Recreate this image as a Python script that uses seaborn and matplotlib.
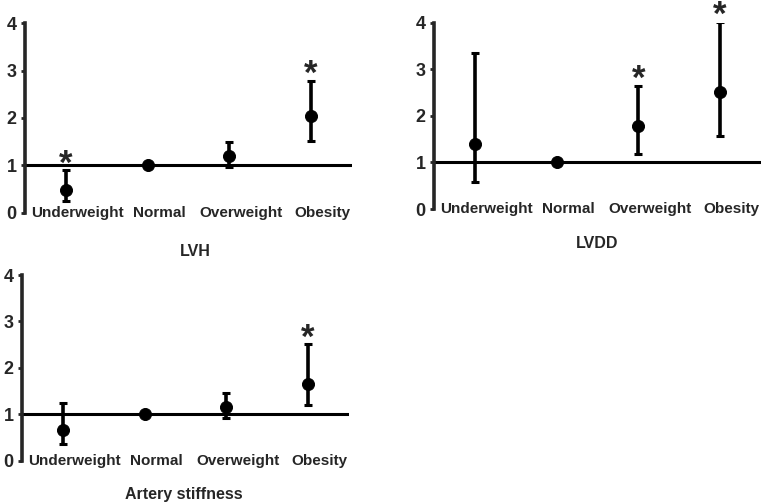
import numpy as np
import pandas as pd
import seaborn as sns
import matplotlib.pyplot as plt

categories = ["Underweight", "Normal", "Overweight", "Obesity"]

# odds ratio, lower and upper CI for each panel
lvh_or = [0.47, 1.0, 1.2, 2.05]
lvh_low = [0.25, 1.0, 0.97, 1.52]
lvh_high = [0.90, 1.0, 1.5, 2.79]
lvh_sig = [True, False, False, True]

lvdd_or = [1.39, 1.0, 1.79, 2.52]
lvdd_low = [0.57, 1.0, 1.19, 1.57]
lvdd_high = [3.34, 1.0, 2.65, 4.02]
lvdd_sig = [False, False, True, True]

stiff_or = [0.67, 1.0, 1.15, 1.65]
stiff_low = [0.37, 1.0, 0.92, 1.19]
stiff_high = [1.25, 1.0, 1.45, 2.51]
stiff_sig = [False, False, False, True]

titles = ["LVH", "LVDD", "Artery stiffness"]

sns.set_style("ticks")
plt.rcParams["font.family"] = ["Liberation Sans", "DejaVu Sans"]
plt.rcParams["font.weight"] = "bold"

fig = plt.figure(figsize=(7.64, 5.03), dpi=100)

W, H = 764, 503
# left px, bottom px, top px
boxes = [(25, 212.7, 23.3), (434, 209, 22.7), (22, 460.7, 275)]
panels = [
    (lvh_or, lvh_low, lvh_high, lvh_sig),
    (lvdd_or, lvdd_low, lvdd_high, lvdd_sig),
    (stiff_or, stiff_low, stiff_high, stiff_sig),
]
title_pos = [(195, 251), (597, 243), (184, 494)]

for (left, bot, top), (vals, low, high, sig), title, (tx, ty) in zip(boxes, panels, titles, title_pos):
    ax = fig.add_axes([left / W, (H - bot) / H, 327 / W, (bot - top) / H])
    df = pd.DataFrame({"cat": categories, "or": vals, "low": low, "high": high})
    xs = np.arange(len(categories))

    ax.axhline(1, color="black", lw=2.2, zorder=1)
    yerr = [df["or"] - df["low"], df["high"] - df["or"]]
    ax.errorbar(xs, df["or"], yerr=yerr, fmt="none", ecolor="black",
                elinewidth=2.6, capsize=3, capthick=2.2, zorder=2)
    sns.scatterplot(data=df, x="cat", y="or", ax=ax, color="black", s=75,
                    edgecolor="black", zorder=3, legend=False)

    for i, s in enumerate(sig):
        if s:
            ax.text(i, high[i] + 0.13, "*", ha="center", va="center",
                    fontsize=25, fontweight="bold", clip_on=False)

    for i, c in enumerate(categories):
        ax.text(i + 0.14, 0, c, ha="center", va="center", fontsize=11,
                fontweight="bold")

    ax.set_xlim(-0.5, 3.5)
    ax.set_ylim(0, 4)
    ax.set_yticks([0, 1, 2, 3, 4])
    ax.set_xticks([])
    ax.set_xlabel("")
    ax.set_ylabel("")
    ax.tick_params(axis="y", length=3, width=2, pad=3, labelsize=13)
    for lab in ax.get_yticklabels():
        lab.set_fontweight("bold")
    sns.despine(ax=ax, bottom=True)
    ax.spines["left"].set_linewidth(2.6)
    ax.patch.set_alpha(0)

    fig.text(tx / W, 1 - ty / H, title, ha="center", va="center",
             fontsize=11.5, fontweight="bold")

fig.savefig("out.png", dpi=100)
